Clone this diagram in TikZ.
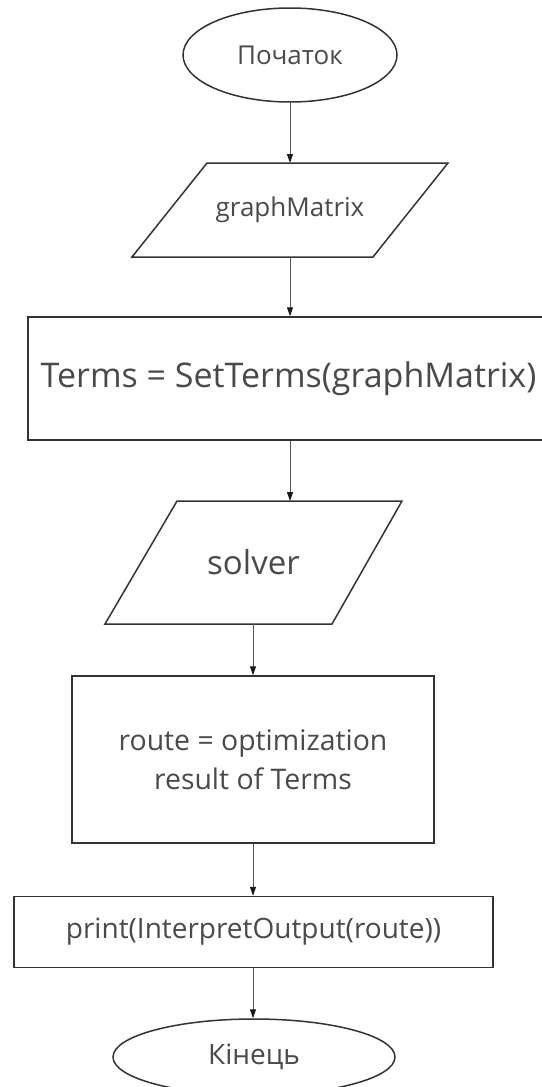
\documentclass[tikz,border=0pt]{standalone}
\usepackage{fontspec}
\setmainfont{Open Sans}
\usetikzlibrary{shapes.geometric,arrows.meta}
\definecolor{edgec}{HTML}{333333}
\definecolor{textc}{HTML}{4A4A4A}
\definecolor{arrc}{HTML}{555555}
\tikzset{
  box/.style={draw=edgec, line width=1.5pt, rectangle, inner sep=0pt, text=textc, align=center},
  term/.style={draw=edgec, line width=1.5pt, ellipse, inner sep=0pt, text=textc},
  io/.style={draw=edgec, line width=1.5pt, line join=miter},
  lbl/.style={inner sep=0pt, text=textc, align=center},
  flow/.style={draw=arrc, line width=1pt, -{Triangle[length=9pt,width=6pt,fill=black!90,color=black!90]}}
}
\newcommand{\fs}[2]{\fontsize{#1pt}{#2pt}\selectfont}
\begin{document}
\begin{tikzpicture}[x=1pt,y=-1pt]
\useasboundingbox[fill=white] (0,0) rectangle (541,1087);
% start
\node[term, minimum width=214pt, minimum height=94pt, font=\fs{26}{32}] (start) at (290,55) {Початок};
% graphMatrix input
\coordinate (gmA) at (132,257);
\coordinate (gmB) at (207,163);
\coordinate (gmC) at (448,163);
\coordinate (gmD) at (373,257);
\draw[io] (gmA) -- (gmB) -- (gmC) -- (gmD) -- cycle;
\coordinate (gmtop) at (290,163);
\coordinate (gmbot) at (290,257);
\node[lbl, font=\fs{26}{32}] (gm) at (290,210) {graphMatrix};
% Terms
\node[box, minimum width=521pt, minimum height=123pt, font=\fs{34}{40}] (terms) at (288.5,378.5) {Terms = SetTerms(graphMatrix)};
% solver
\coordinate (svA) at (105,624);
\coordinate (svB) at (177,501);
\coordinate (svC) at (402,501);
\coordinate (svD) at (332,624);
\draw[io] (svA) -- (svB) -- (svC) -- (svD) -- cycle;
\coordinate (svtop) at (290,501);
\coordinate (svbot) at (253,624);
\node[lbl, font=\fs{33}{40}] (sv) at (253.5,562) {solver};
% route
\node[box, minimum width=362pt, minimum height=167pt, font=\fs{28.4}{39}] (route) at (253,759.5) {route = optimization\\result of Terms};
% print
\node[box, minimum width=479pt, minimum height=71pt, font=\fs{28}{34}] (print) at (253.5,932) {print(InterpretOutput(route))};
% end
\node[term, minimum width=282pt, minimum height=76pt, font=\fs{28}{34}] (end) at (254,1057) {Кінець};
% connectors
\draw[flow] (start.south) -- (gmtop);
\draw[flow] (gmbot) -- (terms.north -| gmbot);
\draw[flow] (terms.south -| svtop) -- (svtop);
\draw[flow] (svbot) -- (route.north -| svbot);
\draw[flow] (route.south -| svbot) -- (print.north -| svbot);
\draw[flow] (print.south -| svbot) -- (end.north -| svbot);
\end{tikzpicture}
\end{document}
